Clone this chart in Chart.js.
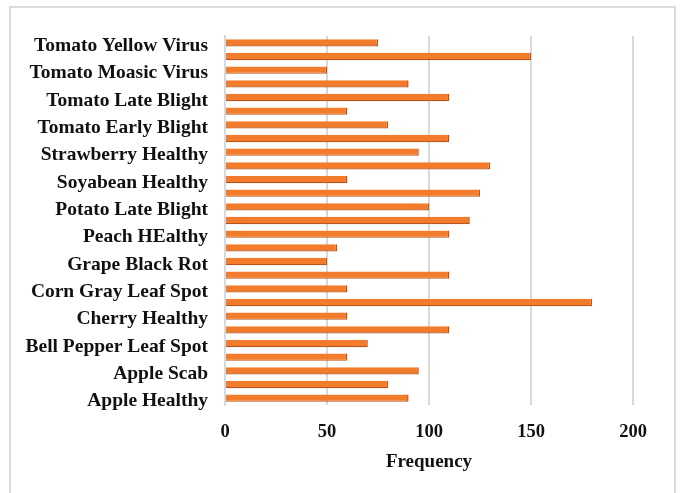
<!DOCTYPE html>
<html>
<head>
<meta charset="utf-8">
<script src="https://cdn.jsdelivr.net/npm/chart.js@4.4.1/dist/chart.umd.min.js"></script>
<style>
  html, body { margin: 0; padding: 0; background: #ffffff; }
  #wrap { position: relative; width: 681px; height: 493px; }
  #frame { position: absolute; left: 9px; top: 6px; width: 667px; height: 500px;
           border: 2px solid #dcdcdc; box-sizing: border-box; }
  canvas { position: absolute; left: 0; top: 0; }
</style>
</head>
<body>
<div id="wrap">
  <div id="frame"></div>
  <canvas id="chart" width="681" height="493"></canvas>
</div>
<script>
// Leaf classes, listed top to bottom as they appear on the axis
const categories = [
  "Tomato Yellow Virus",
  "Tomato Septoria Leaf Spot",
  "Tomato Moasic Virus",
  "Tomato Leaf Mold",
  "Tomato Late Blight",
  "Tomato Healthy",
  "Tomato Early Blight",
  "Tomato Bacterial Spot",
  "Strawberry Healthy",
  "Squash Powdery Mildew",
  "Soyabean Healthy",
  "Raspberry Healthy",
  "Potato Late Blight",
  "Potato Early Blight",
  "Peach HEalthy",
  "Grape Healthy",
  "Grape Black Rot",
  "Corn Rust Leaf",
  "Corn Gray Leaf Spot",
  "Corn Leaf Blight",
  "Cherry Healthy",
  "Blueberry Healthy",
  "Bell Pepper Leaf Spot",
  "Bell Pepper Healthy",
  "Apple Scab",
  "Apple Rust Leaf",
  "Apple Healthy"
];

// Number of images per class
const frequency = [
  75, 150, 50, 90, 110, 60, 80, 110, 95, 130,
  60, 125, 100, 120, 110, 55, 50, 110, 60, 180,
  60, 110, 70, 60, 95, 80, 90
];

const xTicks = [0, 50, 100, 150, 200];
const xTitle = "Frequency";

const serif = "'Liberation Serif', 'Times New Roman', serif";

new Chart(document.getElementById("chart"), {
  type: "bar",
  data: {
    labels: categories,
    datasets: [{
      data: frequency,
      backgroundColor: "#F27B2C",
      borderColor: "#B8561A",
      borderWidth: { top: 0, right: 1.5, bottom: 1.2, left: 0 },
      borderSkipped: false,
      barPercentage: 0.54,
      categoryPercentage: 1.0
    }]
  },
  options: {
    indexAxis: "y",
    responsive: false,
    animation: false,
    layout: { padding: { left: 0, right: 48, top: 36, bottom: 20 } },
    plugins: { legend: { display: false }, tooltip: { enabled: false } },
    scales: {
      x: {
        min: 0,
        max: 200,
        afterBuildTicks: (scale) => { scale.ticks = xTicks.map(v => ({ value: v })); },
        afterFit: (scale) => { scale.height = 68; },
        grid: { color: "#d9d9d9", lineWidth: 2, drawTicks: false },
        border: { display: false },
        ticks: {
          color: "#111111",
          padding: 16,
          font: { family: serif, size: 18.5, weight: "bold" }
        },
        title: {
          display: true,
          text: xTitle,
          color: "#111111",
          padding: { top: 0, bottom: 0 },
          font: { family: serif, size: 19, weight: "bold" }
        }
      },
      y: {
        afterFit: (scale) => { scale.width = 225; },
        grid: { display: false, drawTicks: false },
        border: { display: true, color: "#d9d9d9", width: 2 },
        ticks: {
          autoSkip: false,
          color: "#111111",
          padding: 17,
          labelOffset: 3,
          font: { family: serif, size: 19.5, weight: "bold" },
          callback: function (value, index) {
            return index % 2 === 0 ? this.getLabelForValue(value) : "";
          }
        }
      }
    }
  }
});
</script>
</body>
</html>
